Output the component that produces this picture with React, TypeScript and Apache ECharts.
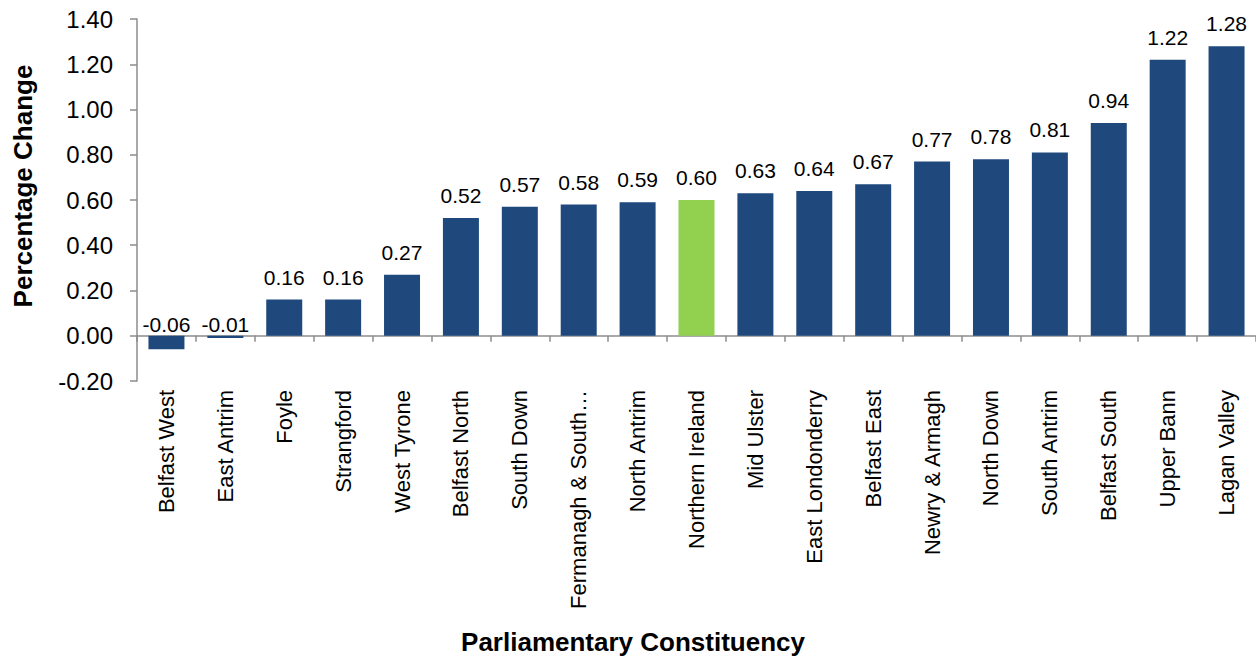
import React, { useEffect, useRef } from "react";
import * as echarts from "echarts";

const categories = [
  "Belfast West", "East Antrim", "Foyle", "Strangford", "West Tyrone",
  "Belfast North", "South Down", "Fermanagh & South…", "North Antrim",
  "Northern Ireland", "Mid Ulster", "East Londonderry", "Belfast East",
  "Newry & Armagh", "North Down", "South Antrim", "Belfast South",
  "Upper Bann", "Lagan Valley",
];
const values = [
  -0.06, -0.01, 0.16, 0.16, 0.27, 0.52, 0.57, 0.58, 0.59, 0.6, 0.63,
  0.64, 0.67, 0.77, 0.78, 0.81, 0.94, 1.22, 1.28,
];
const highlight = "Northern Ireland";
const yTicks = { min: -0.2, max: 1.4, interval: 0.2 };

const FONT = "Liberation Sans, Arial, sans-serif";
const BAR_W = 36;

export default function App() {
  const ref = useRef<HTMLDivElement>(null);
  useEffect(() => {
    if (!ref.current) return;
    const chart = echarts.init(ref.current, undefined, { renderer: "svg" });
    chart.setOption({
      animation: false,
      textStyle: { fontFamily: FONT },
      grid: { left: 137, right: -1, top: 19, bottom: 276, containLabel: false },
      xAxis: {
        type: "category",
        data: categories,
        axisLine: { onZero: true, lineStyle: { color: "#8C8C8C", width: 1.5 } },
        axisTick: { show: true, length: 6, alignWithLabel: false, lineStyle: { color: "#8C8C8C", width: 1.5 } },
        axisLabel: {
          rotate: 90,
          margin: 9,
          interval: 0,
          color: "#000",
          fontSize: 22,
          fontFamily: FONT,
        },
      },
      yAxis: {
        type: "value",
        min: yTicks.min,
        max: yTicks.max,
        interval: yTicks.interval,
        splitLine: { show: false },
        axisLine: { show: true, lineStyle: { color: "#8C8C8C", width: 1.5 } },
        axisTick: { show: true, length: 7, lineStyle: { color: "#8C8C8C", width: 1.5 } },
        axisLabel: {
          color: "#000",
          fontSize: 24,
          margin: 24,
          fontFamily: FONT,
          formatter: (v: number) => v.toFixed(2),
        },
      },
      graphic: [
        {
          type: "text",
          x: 23,
          y: 186,
          rotation: Math.PI / 2,
          style: {
            text: "Percentage Change",
            fontSize: 26,
            fontWeight: "bold",
            fontFamily: FONT,
            fill: "#000",
            textAlign: "center",
            textVerticalAlign: "middle",
          },
        },
        {
          type: "text",
          x: 633,
          y: 642,
          style: {
            text: "Parliamentary Constituency",
            fontSize: 26,
            fontWeight: "bold",
            fontFamily: FONT,
            fill: "#000",
            textAlign: "center",
            textVerticalAlign: "middle",
          },
        },
      ],
      series: [
        {
          type: "bar",
          barWidth: BAR_W,
          data: values.map((v, i) => ({
            value: v,
            itemStyle: {
              color: categories[i] === highlight ? "#92D050" : "#1F497D",
            },
            label:
              v < 0
                ? { position: [BAR_W / 2, -1], align: "center", verticalAlign: "bottom" }
                : undefined,
          })),
          label: {
            show: true,
            position: "top",
            distance: 12,
            color: "#000",
            fontSize: 21,
            fontFamily: FONT,
            formatter: (p: any) => Number(p.value).toFixed(2),
          },
        },
      ],
    });
    return () => chart.dispose();
  }, []);
  return <div ref={ref} style={{ width: 1256, height: 657, position: "absolute", left: 0, top: 0 }} />;
}
